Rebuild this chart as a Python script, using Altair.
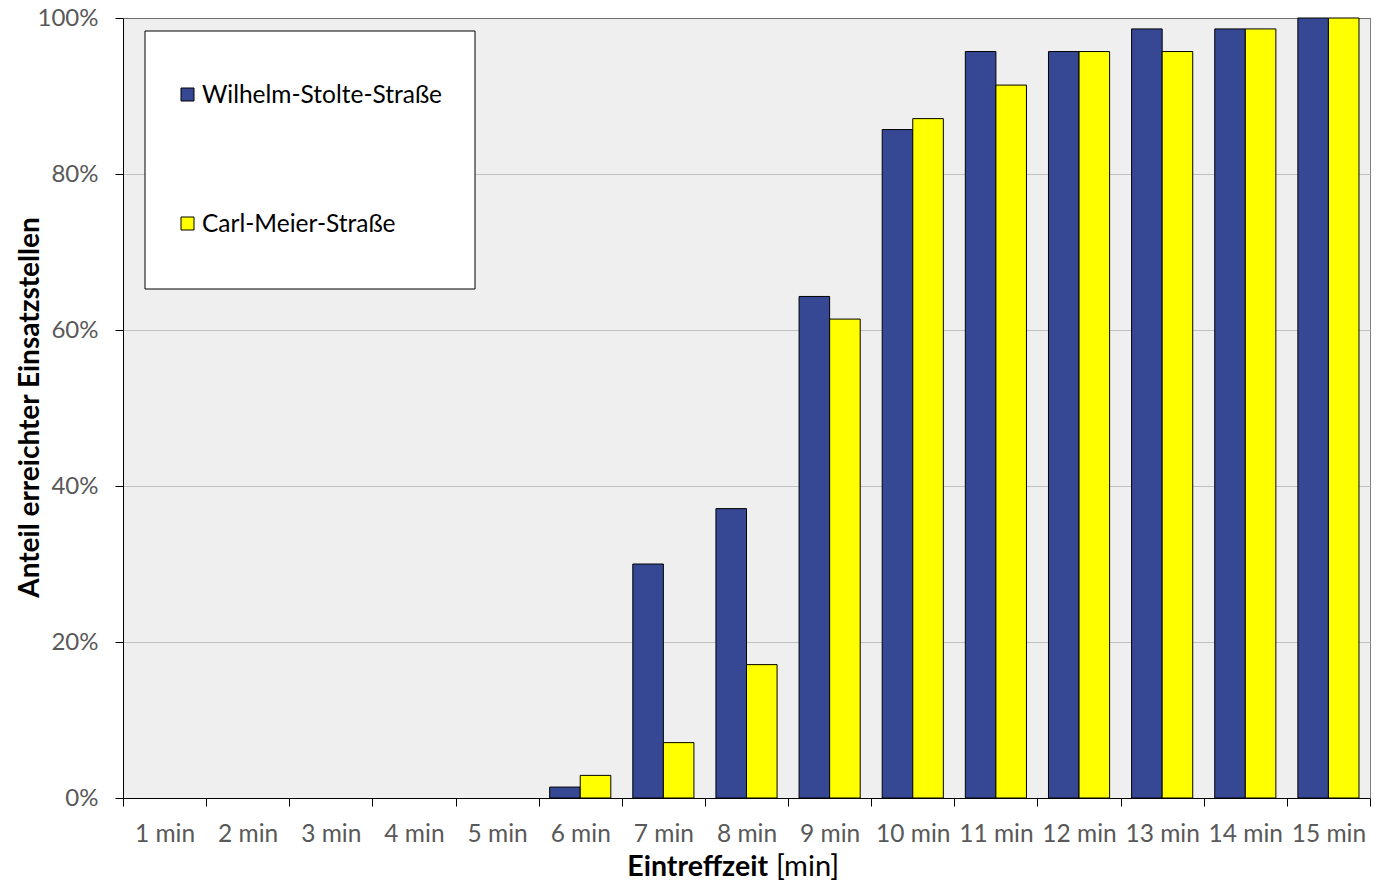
import altair as alt
import pandas as pd

categories = ["1 min", "2 min", "3 min", "4 min", "5 min", "6 min", "7 min", "8 min",
              "9 min", "10 min", "11 min", "12 min", "13 min", "14 min", "15 min"]
wilhelm = [0, 0, 0, 0, 0, 1.4, 30.0, 37.1, 64.3, 85.7, 95.7, 95.7, 98.6, 98.6, 100.0]
carl = [0, 0, 0, 0, 0, 2.9, 7.1, 17.1, 61.4, 87.1, 91.4, 95.7, 95.7, 98.6, 100.0]
series = ["Wilhelm-Stolte-Straße", "Carl-Meier-Straße"]
colors = ["#364894", "#ffff00"]
y_ticks = [0, 20, 40, 60, 80, 100]

rows = []
for c, w, k in zip(categories, wilhelm, carl):
    rows.append({"cat": c, "series": series[0], "value": w})
    rows.append({"cat": c, "series": series[1], "value": k})
df = pd.DataFrame(rows)

FONT = "Lato"
W, H = 1247, 780
TOP = 10

bars = alt.Chart(df).transform_filter("datum.value > 0").mark_bar(
    stroke="black", strokeWidth=1).encode(
    x=alt.X("cat:N", sort=categories,
            scale=alt.Scale(domain=categories, paddingInner=0, paddingOuter=0),
            axis=alt.Axis(title=None, labelAngle=0, tickBand="extent", tickSize=8,
                          tickColor="black", domainColor="black", labelColor="#595959",
                          labelFont=FONT, labelFontSize=24.5, labelBaseline="alphabetic",
                          labelPadding=35, grid=False)),
    xOffset=alt.XOffset("series:N", sort=series,
                        scale=alt.Scale(domain=series, paddingInner=0, paddingOuter=0.36)),
    y=alt.Y("value:Q", scale=alt.Scale(domain=[0, 100], nice=False),
            axis=alt.Axis(values=y_ticks, labelExpr="datum.value + '%'",
                          tickSize=8, tickColor="black", domainColor="black",
                          labelColor="#595959", labelFont=FONT, labelFontSize=24,
                          labelPadding=17,
                          gridColor={"condition": {"test": "datum.value == 100", "value": "#6f6f6f"},
                                     "value": "#c0c0c0"},
                          title="Anteil erreichter Einsatzstellen",
                          titleFont=FONT, titleFontSize=28,
                          titleFontWeight="bold", titleColor="black",
                          titleX=-93, titleY=389, titleAngle=270,
                          titleAlign="center", titleBaseline="middle")),
    color=alt.Color("series:N", scale=alt.Scale(domain=series, range=colors), legend=None),
)

one = pd.DataFrame({"a": [0]})

legend_box = alt.Chart(one).mark_rect(fill="white", stroke="black", strokeWidth=1).encode(
    x=alt.value(22), x2=alt.value(352), y=alt.value(13), y2=alt.value(271))

layers = [bars, legend_box]
legend_y = [76.5, 205.5]
for name, col, ly in zip(series, colors, legend_y):
    layers.append(alt.Chart(one).mark_square(size=169, fill=col, opacity=1, stroke="black",
                                             strokeWidth=1).encode(
        x=alt.value(64.5), y=alt.value(ly)))
    layers.append(alt.Chart(one).mark_text(text=name, align="left", baseline="middle",
                                           font=FONT, fontSize=24.5, color="black").encode(
        x=alt.value(79), y=alt.value(ly + 1)))

layers.append(alt.Chart(one).mark_text(text="Eintreffzeit", align="right", baseline="alphabetic",
                                       font=FONT, fontSize=28.5, fontWeight="bold",
                                       color="black").encode(
    x=alt.value(645), y=alt.value(858)))
layers.append(alt.Chart(one).mark_text(text="[min]", align="left", baseline="alphabetic",
                                       font=FONT, fontSize=29, color="black").encode(
    x=alt.value(653), y=alt.value(858)))

chart = alt.layer(*layers).properties(
    width=W, height=H,
    autosize=alt.AutoSizeParams(type="none"),
    padding={"left": 115, "top": TOP, "right": 10, "bottom": 85},
    background="white",
).configure_view(fill="#efefef", stroke="#7f7f7f", strokeWidth=1)

chart.save("out.html", embed_options={"renderer": "svg", "actions": False})
